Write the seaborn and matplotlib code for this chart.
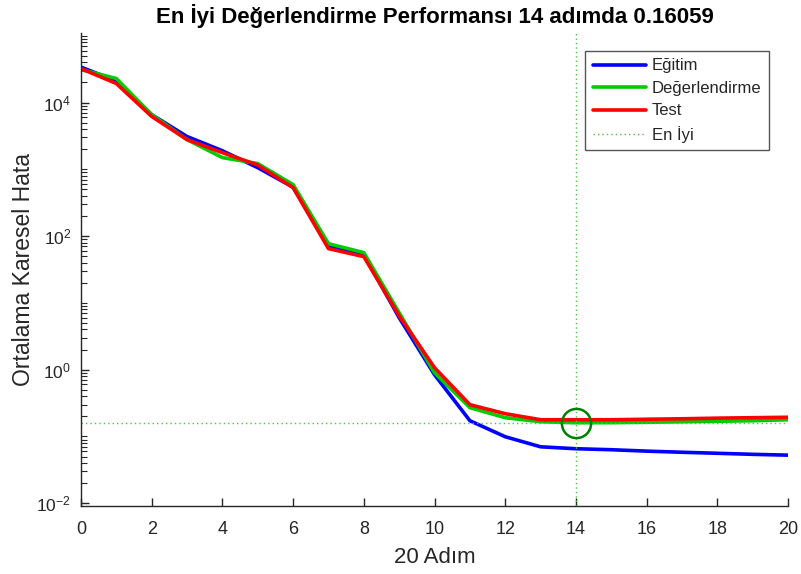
import numpy as np
import pandas as pd
import matplotlib
matplotlib.use("Agg")
import matplotlib.pyplot as plt
import seaborn as sns
from matplotlib.ticker import FixedLocator, FuncFormatter

# ---- data ----
epochs = list(range(21))
train = [34000, 21000, 6600, 3100, 1900, 1060, 540, 70, 53, 6.0, 0.84, 0.172,
         0.099, 0.070, 0.0655, 0.0633, 0.0603, 0.058, 0.056, 0.054, 0.0525]
validation = [31200, 22900, 6600, 2790, 1500, 1220, 591, 77, 56.6, 7.1, 0.90, 0.270,
              0.191, 0.166, 0.16059, 0.161, 0.163, 0.166, 0.169, 0.172, 0.178]
test = [32300, 19300, 6200, 2790, 1780, 1160, 533, 65, 49.3, 6.4, 1.07, 0.299,
        0.219, 0.178, 0.178, 0.178, 0.181, 0.184, 0.188, 0.191, 0.194]
best_epoch = 14
best_value = 0.16059
labels = ["Eğitim", "Değerlendirme", "Test", "En İyi"]
title = "En İyi Değerlendirme Performansı 14 adımda 0.16059"
xlabel = "20 Adım"
ylabel = "Ortalama Karesel Hata"
xticks = list(range(0, 21, 2))
yticks_major = [1e-2, 1e0, 1e2, 1e4]

sns.set_style("white")
plt.rcParams["font.family"] = ["Liberation Sans", "DejaVu Sans"]
plt.rcParams["xtick.direction"] = "in"
plt.rcParams["ytick.direction"] = "in"

fig = plt.figure(figsize=(8.01, 5.74), dpi=100)
ax = fig.add_axes([0.101, 0.1185, 0.883, 0.824])

df = pd.DataFrame({"epoch": epochs, "train": train, "val": validation, "test": test})
sns.lineplot(data=df, x="epoch", y="train", ax=ax, color=(0, 0, 1), linewidth=2.6, label=labels[0])
sns.lineplot(data=df, x="epoch", y="val", ax=ax, color=(0, 0.8, 0), linewidth=2.6, label=labels[1])
sns.lineplot(data=df, x="epoch", y="test", ax=ax, color=(1, 0, 0), linewidth=2.6, label=labels[2])

best_col = (0.3, 0.75, 0.3)
ax.axhline(best_value, color=best_col, linestyle=(0, (1, 2.2)), linewidth=1.0, label=labels[3])
ax.axvline(best_epoch, color=best_col, linestyle=(0, (1, 2.2)), linewidth=1.0)
ax.plot([best_epoch], [best_value], marker="o", markersize=21, markerfacecolor="none",
        markeredgecolor=(0, 0.5, 0), markeredgewidth=1.8, linestyle="none")

ax.set_yscale("log")
ax.set_xlim(0, 20)
ax.set_ylim(0.0091, 1.1e5)

ax.xaxis.set_major_locator(FixedLocator(xticks))
ax.yaxis.set_major_locator(FixedLocator(yticks_major))
minor = [k * 10.0 ** e for e in range(-2, 5) for k in range(1, 10) if not (k == 1 and e % 2 == 0)]
minor.append(1e5)
ax.yaxis.set_minor_locator(FixedLocator(minor))
ax.yaxis.set_major_formatter(FuncFormatter(lambda v, p: r"$\mathregular{10^{%d}}$" % int(round(np.log10(v)))))
ax.yaxis.set_minor_formatter(FuncFormatter(lambda v, p: ""))

tc = "#262626"
ax.tick_params(axis="x", which="major", length=6, width=1, colors=tc, labelsize=13, pad=11)
ax.tick_params(axis="y", which="major", length=6, width=1, colors=tc, labelsize=12.5, pad=7)
ax.tick_params(axis="y", which="minor", length=4, width=0.8, colors=tc)
ax.tick_params(left=True, bottom=True, which="both")
ax.tick_params(axis="x", which="minor", length=0)

for s in ["top", "right"]:
    ax.spines[s].set_visible(False)
for s in ["left", "bottom"]:
    ax.spines[s].set_color(tc)
    ax.spines[s].set_linewidth(1.0)

ax.set_title(title, fontsize=16, fontweight="bold", color="black", pad=7.5)
ax.set_xlabel(xlabel, fontsize=16, color=tc, labelpad=6)
ax.set_ylabel(ylabel, fontsize=16.5, color=tc, labelpad=1)

leg = ax.legend(loc="upper right", bbox_to_anchor=(0.973, 0.962), fontsize=12, frameon=True,
                fancybox=False, framealpha=1, edgecolor="#555555", handlelength=3.2,
                labelspacing=0.45, borderpad=0.45, handletextpad=0.35, borderaxespad=0)
leg.get_frame().set_linewidth(1.0)
for t in leg.get_texts():
    t.set_color(tc)

fig.savefig("out.png", dpi=100)
